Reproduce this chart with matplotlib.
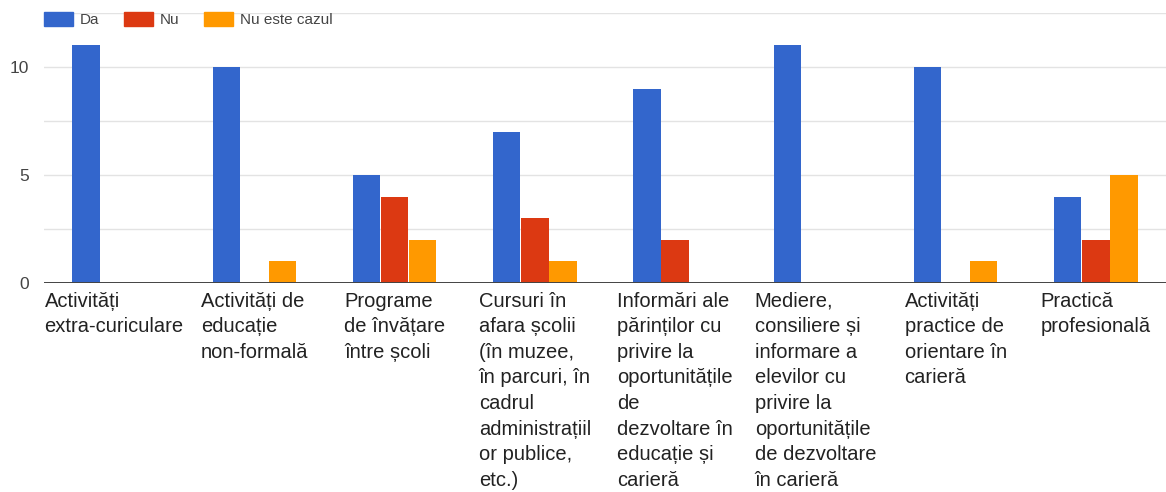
import matplotlib.pyplot as plt
import numpy as np
from matplotlib.patches import Patch

# categorii si valori
categorii = [
    "Activități\nextra-curiculare",
    "Activități de\neducație\nnon-formală",
    "Programe\nde învățare\nîntre școli",
    "Cursuri în\nafara școlii\n(în muzee,\nîn parcuri, în\ncadrul\nadministrațiil\nor publice,\netc.)",
    "Informări ale\npărinților cu\nprivire la\noportunitățile\nde\ndezvoltare în\neducație și\ncarieră",
    "Mediere,\nconsiliere și\ninformare a\nelevilor cu\nprivire la\noportunitățile\nde dezvoltare\nîn carieră",
    "Activități\npractice de\norientare în\ncarieră",
    "Practică\nprofesională",
]
serii = ["Da", "Nu", "Nu este cazul"]
da = [11, 10, 5, 7, 9, 11, 10, 4]
nu = [0, 0, 4, 3, 2, 0, 0, 2]
nu_este_cazul = [0, 1, 2, 1, 0, 0, 1, 5]
culori = ["#3366cc", "#dc3912", "#ff9900"]

plt.rcParams['font.family'] = ['Liberation Sans', 'DejaVu Sans']

fig = plt.figure(figsize=(11.66, 4.92), dpi=100)
ax = fig.add_axes([44 / 1166, 209 / 492, 1 - 44 / 1166, 270 / 492])

x = np.arange(len(categorii))
latime = 0.195
for k, valori in enumerate([da, nu, nu_este_cazul]):
    ax.bar(x + (k - 1) * 0.2, valori, width=latime, color=culori[k], zorder=3)

ax.set_xlim(-0.5, len(categorii) - 0.5)
ax.set_ylim(0, 12.5)
ax.set_yticks([0, 5, 10])
ax.set_yticks(np.arange(0, 12.6, 2.5), minor=True)
ax.grid(axis='y', which='both', color='#e3e3e3', linewidth=1, zorder=0)
ax.axhline(0, color='#444444', linewidth=1.4, zorder=4)
ax.tick_params(axis='y', which='both', length=0, pad=11, labelsize=12.5, labelcolor='#444444')
ax.set_xticks([])
for s in ax.spines.values():
    s.set_visible(False)

# etichete pe axa x, blocul centrat pe grupa, randurile aliniate la stanga
for i, text in enumerate(categorii):
    ax.text(i, -0.4, text, ha='center', va='top', multialignment='left',
            fontsize=14.5, color='#222222', linespacing=1.44)

handles = [Patch(color=c, label=s) for c, s in zip(culori, serii)]
fig.legend(handles=handles, loc='upper left', bbox_to_anchor=(44 / 1166, 1 - 12 / 492),
           ncol=3, frameon=False, fontsize=11, handlelength=1.9, handleheight=1.0,
           handletextpad=0.45, columnspacing=1.6, borderpad=0, borderaxespad=0,
           labelcolor='#444444')

fig.savefig("out.png", dpi=100)
